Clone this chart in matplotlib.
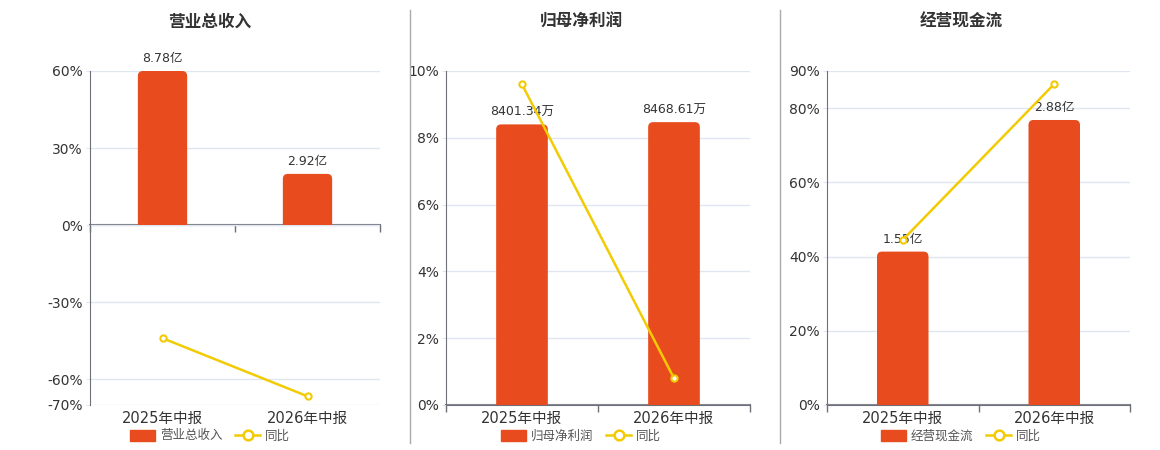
import matplotlib
matplotlib.use("Agg")
import matplotlib.pyplot as plt
from matplotlib.patches import Patch, FancyBboxPatch, Rectangle
from matplotlib.lines import Line2D

plt.rcParams['font.family'] = ['DejaVu Sans', 'Noto Sans CJK SC']

# data
periods = ['2025年中报', '2026年中报']

titles = ['营业总收入', '归母净利润', '经营现金流']
bar_names = ['营业总收入', '归母净利润', '经营现金流']

revenue = [8.78, 2.92]            # 亿
revenue_labels = ['8.78亿', '2.92亿']
revenue_yoy = [-44.0, -66.6]      # %

profit = [8401.34, 8468.61]       # 万
profit_labels = ['8401.34万', '8468.61万']
profit_yoy = [9.6, 0.8]

cashflow = [1.55, 2.88]           # 亿
cashflow_labels = ['1.55亿', '2.88亿']
cashflow_yoy = [44.5, 86.5]

# layout / styles
W, H = 1160, 450
BAR_C = '#E84C1E'
LINE_C = '#F2CB05'
GRID_C = '#E0E6F1'
AXIS_C = '#6E7079'
TXT_C = '#333333'

panels = [
    dict(box=(90, 380), yl=(-70, 60), yt=[-70, -60, -30, 0, 30, 60], bars=revenue,
         blabels=revenue_labels, yoy=revenue_yoy, bmax=8.78, tx=210),
    dict(box=(446, 750), yl=(0, 10), yt=[0, 2, 4, 6, 8, 10], bars=profit,
         blabels=profit_labels, yoy=profit_yoy, bmax=10000, tx=581),
    dict(box=(827, 1130), yl=(0, 90), yt=[0, 20, 40, 60, 80, 90], bars=cashflow,
         blabels=cashflow_labels, yoy=cashflow_yoy, bmax=3.375, tx=961),
]

fig = plt.figure(figsize=(W / 100, H / 100), dpi=100)
top, bottom = 71, 405
RADIUS_PX = 5

for i, p in enumerate(panels):
    l, r = p['box']
    ax_h_px = bottom - top
    ax_w_px = r - l
    ax = fig.add_axes([l / W, (H - bottom) / H, ax_w_px / W, ax_h_px / H])
    ylo, yhi = p['yl']
    ax.set_ylim(ylo, yhi)
    ax.set_xlim(-0.5, 1.5)
    ax.set_yticks(p['yt'])
    ax.set_yticklabels([f'{v}%' for v in p['yt']])
    ax.grid(axis='y', color=GRID_C, linewidth=1)
    ax.set_axisbelow(True)
    for s in ['top', 'right', 'bottom']:
        ax.spines[s].set_visible(False)
    ax.spines['left'].set_color(AXIS_C)
    ax.tick_params(axis='y', length=3, color=GRID_C, labelsize=10, labelcolor=TXT_C, pad=2)
    ax.set_xticks(range(len(periods)))
    ax.set_xticklabels(periods)
    ax.tick_params(axis='x', length=0, labelsize=10.5, labelcolor=TXT_C, pad=4)

    # zero axis line with category boundary ticks
    zero_frac = (0 - ylo) / (yhi - ylo)
    sec = ax.secondary_xaxis(zero_frac)
    sec.set_alignment('bottom')
    sec.set_xticks([-0.5, 0.5, 1.5])
    sec.set_xticklabels([])
    for sp in sec.spines.values():
        sp.set_color(AXIS_C)
        sp.set_linewidth(1.5)
    sec.tick_params(axis='x', length=5, color=AXIS_C, width=1, direction='out')

    # bars on hidden axis, zero aligned, rounded tops
    bx = ax.twinx()
    blo = p['bmax'] * ylo / yhi
    bx.set_ylim(blo, p['bmax'])
    bx.set_xlim(-0.5, 1.5)
    bx.set_axis_off()
    bars = bx.bar(range(len(periods)), p['bars'], width=0.34, color=BAR_C, zorder=2)
    x_per_px = 2.0 / ax_w_px
    y_per_px = (p['bmax'] - blo) / ax_h_px
    clip = Rectangle((-0.5, 0), 2.0, p['bmax'] * 2, transform=bx.transData)
    for rect, lab in zip(bars, p['blabels']):
        x0, w, h = rect.get_x(), rect.get_width(), rect.get_height()
        rect.set_visible(False)
        ext = RADIUS_PX * 2 * y_per_px
        fb = FancyBboxPatch((x0, -ext), w, h + ext,
                            boxstyle=f'round,pad=0,rounding_size={RADIUS_PX * x_per_px}',
                            mutation_aspect=y_per_px / x_per_px,
                            facecolor=BAR_C, edgecolor='none', zorder=2)
        bx.add_patch(fb)
        fb.set_clip_path(clip)
        bx.annotate(lab, (x0 + w / 2, h), xytext=(0, 4), textcoords='offset points',
                    ha='center', va='bottom', fontsize=9, color=TXT_C, zorder=3)

    # yoy line on top
    lx = ax.twinx()
    lx.set_ylim(ylo, yhi)
    lx.set_xlim(-0.5, 1.5)
    lx.set_axis_off()
    lx.plot(range(len(periods)), p['yoy'], color=LINE_C, linewidth=1.8, marker='o',
            markersize=4.5, markerfacecolor='white', markeredgecolor=LINE_C,
            markeredgewidth=1.5, zorder=5)

    fig.text(p['tx'] / W, 1 - 22 / H, titles[i], ha='center', va='center',
             fontsize=12, fontweight='bold', color=TXT_C)

    handles = [Patch(facecolor=BAR_C, edgecolor=BAR_C, label=bar_names[i]),
               Line2D([0], [0], color=LINE_C, linewidth=1.8, marker='o', markersize=7,
                      markerfacecolor='white', markeredgecolor=LINE_C,
                      markeredgewidth=1.8, label='同比')]
    fig.legend(handles=handles, loc='center', bbox_to_anchor=(p['tx'] / W, 1 - 436 / H),
               ncol=2, frameon=False, fontsize=9, handlelength=2.0, handleheight=1.0,
               handletextpad=0.4, columnspacing=1.0, labelcolor='#555555',
               borderpad=0, borderaxespad=0)

# panel separators
for xs in (410, 780):
    fig.add_artist(Line2D([xs / W, xs / W], [1 - 10 / H, 1 - 443 / H],
                          color='#AAAAAA', linewidth=1))

fig.savefig('out.png', dpi=100)
